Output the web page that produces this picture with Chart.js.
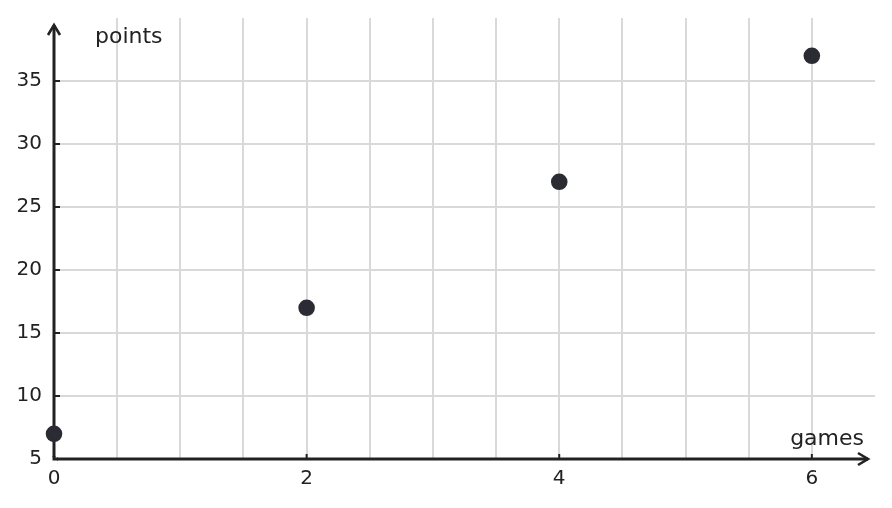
<!DOCTYPE html>
<html>
<head>
<meta charset="utf-8">
<script src="https://cdn.jsdelivr.net/npm/chart.js@4.4.1/dist/chart.umd.min.js"></script>
<style>
  html, body { margin: 0; padding: 0; background: #ffffff; }
  #wrap { width: 892px; height: 508px; }
</style>
</head>
<body>
<div id="wrap"><canvas id="c" width="892" height="508"></canvas></div>
<script>
const games = [0, 2, 4, 6];
const points = [7, 17, 27, 37];
const xTickLabels = [0, 2, 4, 6];
const yTickLabels = [5, 10, 15, 20, 25, 30, 35];
const xTitle = 'games';
const yTitle = 'points';

const INK = '#222222';
const GRID = '#d9d9d9';
const FONT = '"DejaVu Sans", sans-serif';

const axesPlugin = {
  id: 'axesPlugin',
  beforeDatasetsDraw(chart) {
    const { ctx, chartArea, scales } = chart;
    const xs = scales.x, ys = scales.y;
    const x0 = xs.getPixelForValue(0);
    const y0 = ys.getPixelForValue(5);
    ctx.save();
    ctx.strokeStyle = INK;
    ctx.lineCap = 'butt';
    ctx.lineJoin = 'miter';
    // inner ticks
    ctx.lineWidth = 2;
    yTickLabels.forEach(v => {
      if (v === 5) return;
      const y = ys.getPixelForValue(v);
      ctx.beginPath(); ctx.moveTo(x0, y); ctx.lineTo(x0 + 6, y); ctx.stroke();
    });
    xTickLabels.forEach(v => {
      if (v === 0) return;
      const x = xs.getPixelForValue(v);
      ctx.beginPath(); ctx.moveTo(x, y0); ctx.lineTo(x, y0 - 5); ctx.stroke();
    });
    // axes
    ctx.lineWidth = 3;
    const yTip = chartArea.top + 7;
    const xTip = chartArea.right - 7;
    ctx.beginPath();
    ctx.moveTo(x0, y0 - 2); ctx.lineTo(x0, yTip);
    ctx.stroke();
    ctx.beginPath();
    ctx.moveTo(x0 + 3, y0); ctx.lineTo(xTip, y0);
    ctx.stroke();
    ctx.beginPath();
    ctx.moveTo(x0, y0 - 3); ctx.lineTo(x0, y0); ctx.lineTo(x0 + 4, y0);
    ctx.stroke();
    // arrowheads
    ctx.lineWidth = 2.6;
    ctx.beginPath();
    ctx.moveTo(x0 - 6, yTip + 10); ctx.lineTo(x0, yTip); ctx.lineTo(x0 + 6, yTip + 10);
    ctx.stroke();
    ctx.beginPath();
    ctx.moveTo(xTip - 10, y0 - 6); ctx.lineTo(xTip, y0); ctx.lineTo(xTip - 10, y0 + 6);
    ctx.stroke();
    // titles
    ctx.fillStyle = INK;
    ctx.font = '22px ' + FONT;
    ctx.textBaseline = 'alphabetic';
    ctx.textAlign = 'left';
    ctx.fillText(yTitle, chartArea.left + 41, chartArea.top + 25);
    ctx.textAlign = 'right';
    ctx.fillText(xTitle, chartArea.right - 11, chartArea.bottom - 14);
    ctx.restore();
  }
};

new Chart(document.getElementById('c'), {
  type: 'scatter',
  data: {
    datasets: [{
      data: games.map((g, i) => ({ x: g, y: points[i] })),
      backgroundColor: '#2b2b33',
      borderColor: '#2b2b33',
      pointRadius: 8.3,
      pointHoverRadius: 8.3,
      borderWidth: 0,
      clip: false
    }]
  },
  options: {
    responsive: false,
    animation: false,
    devicePixelRatio: 1,
    layout: { padding: { top: 18, right: 17, left: 0, bottom: 0 } },
    plugins: { legend: { display: false }, tooltip: { enabled: false } },
    scales: {
      x: {
        type: 'linear',
        min: 0, max: 6.5,
        afterFit(s) { s.height = 49; s.paddingLeft = 0; s.paddingRight = 0; },
        afterBuildTicks(s) { s.ticks = s.ticks.filter(t => t.value < 6.5); },
        border: { display: false },
        grid: {
          drawTicks: false,
          lineWidth: 2,
          color: c => (c.tick && c.tick.value === 0) ? 'rgba(0,0,0,0)' : GRID
        },
        ticks: {
          stepSize: 0.5,
          autoSkip: false,
          maxRotation: 0,
          padding: 8,
          color: INK,
          font: { family: FONT, size: 20 },
          callback: v => xTickLabels.includes(v) ? String(v) : ''
        }
      },
      y: {
        type: 'linear',
        min: 5, max: 40,
        afterFit(s) { s.width = 54; s.paddingTop = 0; s.paddingBottom = 0; },
        afterBuildTicks(s) { s.ticks = s.ticks.filter(t => t.value < 40); },
        border: { display: false },
        grid: {
          drawTicks: false,
          lineWidth: 2,
          color: c => (c.tick && c.tick.value === 5) ? 'rgba(0,0,0,0)' : GRID
        },
        ticks: {
          stepSize: 5,
          padding: 12,
          color: INK,
          font: { family: FONT, size: 20 },
          callback: v => yTickLabels.includes(v) ? String(v) : ''
        }
      }
    }
  },
  plugins: [axesPlugin]
});
</script>
</body>
</html>
